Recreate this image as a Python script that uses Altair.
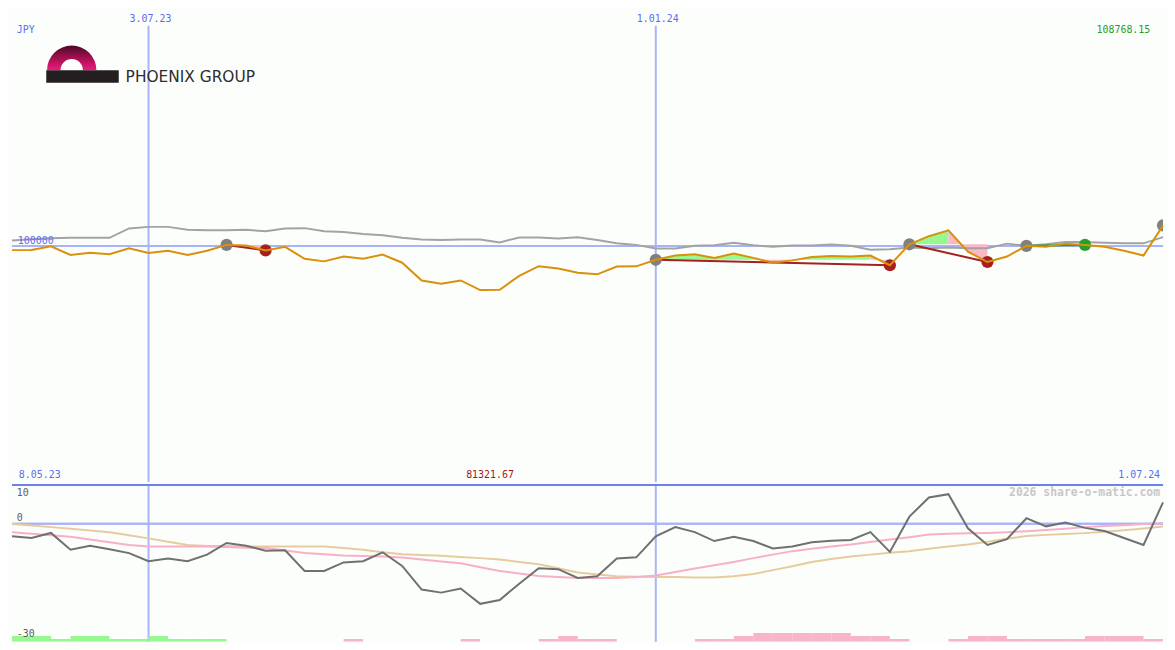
import math
import altair as alt
import pandas as pd

# ---------------- data ----------------
orange = [98275, 98300, 99918, 96222, 97207, 96509, 99096, 97043, 98029, 96222,
          98029, 100493, 100205, 98152, 99671, 94579, 93511, 95565, 94579, 96386,
          92936, 85420, 84065, 85420, 81321.67, 81500, 87351, 91458, 90472, 88706,
          88008, 91293, 91400, 94168, 95975, 96509, 94990, 96797, 94990, 92936,
          93922, 95400, 95811, 95565, 95975, 91868, 100739, 104189, 106653, 97618,
          93224, 95565, 100082, 99671, 101027, 100493, 99671, 98029, 95975, 108768.15]

gray = [102382, 102875, 103286, 103491, 103491, 103491, 107475, 108132, 108132, 106900,
        106653, 106653, 106900, 106243, 107475, 107598, 106243, 105955, 105134, 104600,
        103491, 102793, 102546, 102793, 102793, 101561, 103614, 103614, 103203, 103778,
        102546, 101150, 100493, 98973, 98973, 100082, 100329, 101437, 100329, 99671,
        100205, 100205, 100616, 100082, 98439, 98686, 99384, 99096, 99384, 99096,
        99096, 101027, 100082, 100739, 101725, 101725, 101437, 101150, 101150, 103778]

osc = [-3.25, -3.7, -2.4, -6.75, -5.7, -6.6, -7.6, -9.7, -9.0, -9.7,
       -8.0, -5.0, -5.7, -7.0, -6.9, -12.2, -12.2, -10.0, -9.7, -7.4,
       -10.9, -17.0, -17.8, -16.75, -20.7, -19.7, -15.5, -11.5, -11.75, -14.0,
       -13.6, -9.0, -8.7, -3.25, -0.9, -2.2, -4.5, -3.4, -4.5, -6.4,
       -5.9, -4.8, -4.4, -4.2, -2.2, -7.3, 1.8, 6.75, 7.6, -1.2,
       -5.5, -4.0, 1.4, -0.7, 0.3, -1.1, -1.9, -3.7, -5.5, 5.5]

pink = [-2.2, -2.6, -3.0, -3.4, -4.1, -4.8, -5.5, -5.9, -5.9, -5.9,
        -5.9, -6.05, -6.2, -6.3, -6.95, -7.6, -7.9, -8.2, -8.35, -8.5,
        -8.75, -9.25, -9.75, -10.25, -11.25, -12.2, -12.85, -13.5, -13.75, -14.0,
        -14.0, -14.0, -13.75, -13.4, -12.5, -11.6, -10.75, -9.9, -8.9, -8.0,
        -7.1, -6.5, -5.9, -5.4, -4.75, -4.1, -3.5, -2.8, -2.6, -2.5,
        -2.4, -2.25, -1.95, -1.65, -1.3, -0.9, -0.6, -0.4, -0.1, 0.1]

tan = [-0.1, -0.5, -0.9, -1.3, -1.75, -2.2, -3.0, -3.8, -4.7, -5.5,
       -5.75, -5.8, -5.9, -5.9, -5.9, -5.9, -5.9, -6.3, -6.75, -7.4,
       -7.9, -8.1, -8.3, -8.6, -8.9, -9.25, -9.9, -10.5, -11.5, -12.6,
       -13.1, -13.6, -13.7, -13.8, -13.8, -13.9, -13.9, -13.6, -13.0, -12.0,
       -11.0, -9.9, -9.1, -8.5, -8.0, -7.5, -7.1, -6.5, -5.9, -5.4,
       -4.7, -3.9, -3.2, -2.9, -2.7, -2.45, -2.1, -1.7, -1.25, -0.75]

hist = [2, 2, 1, 2, 2, 1, 1, 2, 1, 1, 1, 0, 0, 0, 0, 0, 0, -1, 0, 0,
        0, 0, 0, -1, 0, 0, 0, -1, -2, -1, -1, 0, 0, 0, 0, -1, -1, -2, -3, -3,
        -3, -3, -3, -2, -2, -1, 0, 0, -1, -2, -2, -1, -1, -1, -1, -2, -2, -2, -1, 0]

entries = [11, 33, 46, 52]
exits = [13, 45, 50, 55]
open_entry = [59]

tick_idx = [7, 33]
tick_lab = ["3.07.23", "1.01.24"]
first_date = "8.05.23"
last_date = "1.07.24"
currency = "JPY"
ref_level = 100000

# ---------------- layout / style ----------------
W, H1, H2 = 1159, 475, 159
SX = W / 1175
SY = (H1 + H2) / 650
BG = "#fcfefc"
BLUE_LINE = "#a8b4f8"
SEP = "#7080e8"
TXT_BLUE = "#5b6df0"
ORANGE = "#d9900a"
GRAY = "#a3a3a3"
DOT_GRAY = "#808080"
RED = "#a5201e"
GREEN = "#22a22a"
G_FILL = "#98f890"
P_FILL = "#f8b8c8"
MONO = "DejaVu Sans Mono"

n = len(orange)
df = pd.DataFrame({"i": list(range(n)), "orange": orange, "gray": gray,
                   "osc": osc, "pink": pink, "tan": tan, "hist": hist})

X = alt.X("i:Q", scale=alt.Scale(domain=[0, n - 1], nice=False, zero=False), axis=None)
YT = alt.Scale(domain=[0, 200000], nice=False, zero=False)
YB = alt.Scale(domain=[-30.5, 10.25], nice=False, zero=False)


def label(txt, x, y, color, align="left", size=10, weight="normal", font=MONO):
    return alt.Chart(pd.DataFrame({"t": [txt]})).mark_text(
        x=x, y=y, align=align, baseline="alphabetic", fontSize=size,
        fontWeight=weight, font=font, color=color).encode(text="t:N")


ticks = pd.DataFrame({"i": tick_idx, "lab": tick_lab})

# ---------------- top panel ----------------
vr_top = alt.Chart(ticks).mark_rule(color=BLUE_LINE, strokeWidth=2).encode(
    x=X, y=alt.value(16 * SY), y2=alt.value(H1))
h_ref = alt.Chart(ticks).mark_rule(color=BLUE_LINE, strokeWidth=2).encode(
    y=alt.datum(ref_level, scale=YT, axis=None))

rows = []
for t, (a, b) in enumerate(zip(entries, exits)):
    e = orange[a]
    for i in range(a, b):
        side = "up" if orange[i + 1] >= e else "down"
        seg = f"{t}-{i}"
        rows.append(dict(seg=seg, i=i, v=orange[i], e=e, side=side))
        rows.append(dict(seg=seg, i=i + 1, v=orange[i + 1], e=e, side=side))
fill = alt.Chart(pd.DataFrame(rows)).mark_area(interpolate="linear", opacity=1).encode(
    x=X, y=alt.Y("v:Q", scale=YT, axis=None, stack=None), y2="e:Q",
    color=alt.Color("side:N", scale=alt.Scale(domain=["up", "down"], range=[G_FILL, P_FILL]), legend=None),
    detail="seg:N")

gray_line = alt.Chart(df).mark_line(color=GRAY, strokeWidth=2).encode(
    x=X, y=alt.Y("gray:Q", scale=YT, axis=None))

trows = []
drows = []
for t, (a, b) in enumerate(zip(entries, exits)):
    res = "gain" if orange[b] > orange[a] else "loss"
    trows.append(dict(t=t, i=a, v=orange[a], res=res))
    trows.append(dict(t=t, i=b, v=orange[b], res=res))
    drows.append(dict(i=a, v=orange[a], kind="entry"))
    drows.append(dict(i=b, v=orange[b], kind=res))
for a in open_entry:
    drows.append(dict(i=a, v=orange[a], kind="entry"))

trade_lines = alt.Chart(pd.DataFrame(trows)).mark_line(strokeWidth=2).encode(
    x=X, y=alt.Y("v:Q", scale=YT, axis=None),
    color=alt.Color("res:N", scale=alt.Scale(domain=["loss", "gain"], range=[RED, GREEN]), legend=None),
    detail="t:N")

dots = alt.Chart(pd.DataFrame(drows)).mark_circle(size=150, opacity=1, clip=True).encode(
    x=X, y=alt.Y("v:Q", scale=YT, axis=None),
    color=alt.Color("kind:N", scale=alt.Scale(domain=["entry", "loss", "gain"],
                                              range=[DOT_GRAY, RED, GREEN]), legend=None))

orange_line = alt.Chart(df).mark_line(color=ORANGE, strokeWidth=2).encode(
    x=X, y=alt.Y("orange:Q", scale=YT, axis=None))

top_ticks = alt.Chart(ticks).mark_text(y=12.7 * SY, align="center", baseline="alphabetic",
                                       dx=2, fontSize=10, font=MONO, color=TXT_BLUE).encode(
    x=X, text="lab:N")

grad = alt.LinearGradient(gradient="linear", x1=0, x2=0, y1=0, y2=1,
                          stops=[alt.GradientStop(offset=0, color="#4a0828"),
                                 alt.GradientStop(offset=0.5, color="#a3104e"),
                                 alt.GradientStop(offset=1, color="#ee1a82")])
one = pd.DataFrame({"a": [0]})
logo_arc = alt.Chart(one).mark_arc(radius=25.5 * SY, radius2=11.5 * SY,
                                   theta=3 * math.pi / 2, theta2=5 * math.pi / 2,
                                   fill=grad).encode(x=alt.value(61 * SX), y=alt.value(62 * SY))
logo_bar = alt.Chart(one).mark_rect(color="#231f20").encode(
    x=alt.value(35 * SX), x2=alt.value(109 * SX), y=alt.value(62 * SY), y2=alt.value(75 * SY))
logo_txt = label("PHOENIX GROUP", 116 * SX, 74.5 * SY, "#2d2d2d", size=15.5, font="DejaVu Sans")

top = alt.layer(
    vr_top, h_ref, fill, gray_line, trade_lines, dots, orange_line,
    top_ticks,
    label(currency, 5 * SX, 24 * SY, TXT_BLUE),
    label(f"{max(orange):.2f}", 1162 * SX, 24 * SY, "#2a9a2a", align="right"),
    label(str(ref_level), 6 * SX, 241.5 * SY, TXT_BLUE),
    label(first_date, 7 * SX, 483 * SY, TXT_BLUE),
    label(f"{min(orange):.2f}", 488 * SX, 483 * SY, "#a01818", align="center"),
    label(last_date, 1172 * SX, 483 * SY, TXT_BLUE, align="right"),
    logo_arc, logo_bar, logo_txt,
).resolve_scale(color="independent").properties(width=W, height=H1)

# ---------------- bottom panel ----------------
vr_bot = alt.Chart(ticks).mark_rule(color=BLUE_LINE, strokeWidth=2).encode(
    x=X, y=alt.value(0), y2=alt.value(H2))
zero = alt.Chart(ticks).mark_rule(color=BLUE_LINE, strokeWidth=2).encode(
    y=alt.datum(0, scale=YB, axis=None))
sep = alt.Chart(ticks).mark_rule(color=SEP, strokeWidth=2).encode(y=alt.value(1))

bars_df = df[df["hist"] != 0].copy()
bars_df["i2"] = bars_df["i"] + 1
bars_df["base"] = -30.5
bars_df["top"] = -30.5 + 0.75 * bars_df["hist"].abs()
bars = alt.Chart(bars_df).mark_rect(clip=True).encode(
    x=X, x2="i2:Q", y=alt.Y("base:Q", scale=YB, axis=None), y2="top:Q",
    color=alt.condition(alt.datum.hist > 0, alt.value(G_FILL), alt.value("#f8b4c8")))

tan_line = alt.Chart(df).mark_line(color="#e6cc9c", strokeWidth=2).encode(
    x=X, y=alt.Y("tan:Q", scale=YB, axis=None))
pink_line = alt.Chart(df).mark_line(color="#f8b0c8", strokeWidth=2).encode(
    x=X, y=alt.Y("pink:Q", scale=YB, axis=None))
osc_line = alt.Chart(df).mark_line(color="#707070", strokeWidth=2).encode(
    x=X, y=alt.Y("osc:Q", scale=YB, axis=None))

bottom = alt.layer(
    vr_bot, zero, sep, bars, tan_line, pink_line, osc_line,
    label("2026 share-o-matic.com", 1172 * SX, 12.5 * SY, "#c8c8c8", align="right",
          size=11.5, weight="bold"),
    label("10", 5 * SX, 12.5 * SY, "#606060"),
    label("0", 5 * SX, 38 * SY, "#606060"),
    label("-30", 5 * SX, 158 * SY, "#606060"),
).properties(width=W, height=H2)

chart = alt.vconcat(top, bottom, spacing=0).properties(
    background=BG, padding=0).configure_view(stroke=None)

chart.save("out.html", embed_options={"renderer": "svg", "actions": False})
